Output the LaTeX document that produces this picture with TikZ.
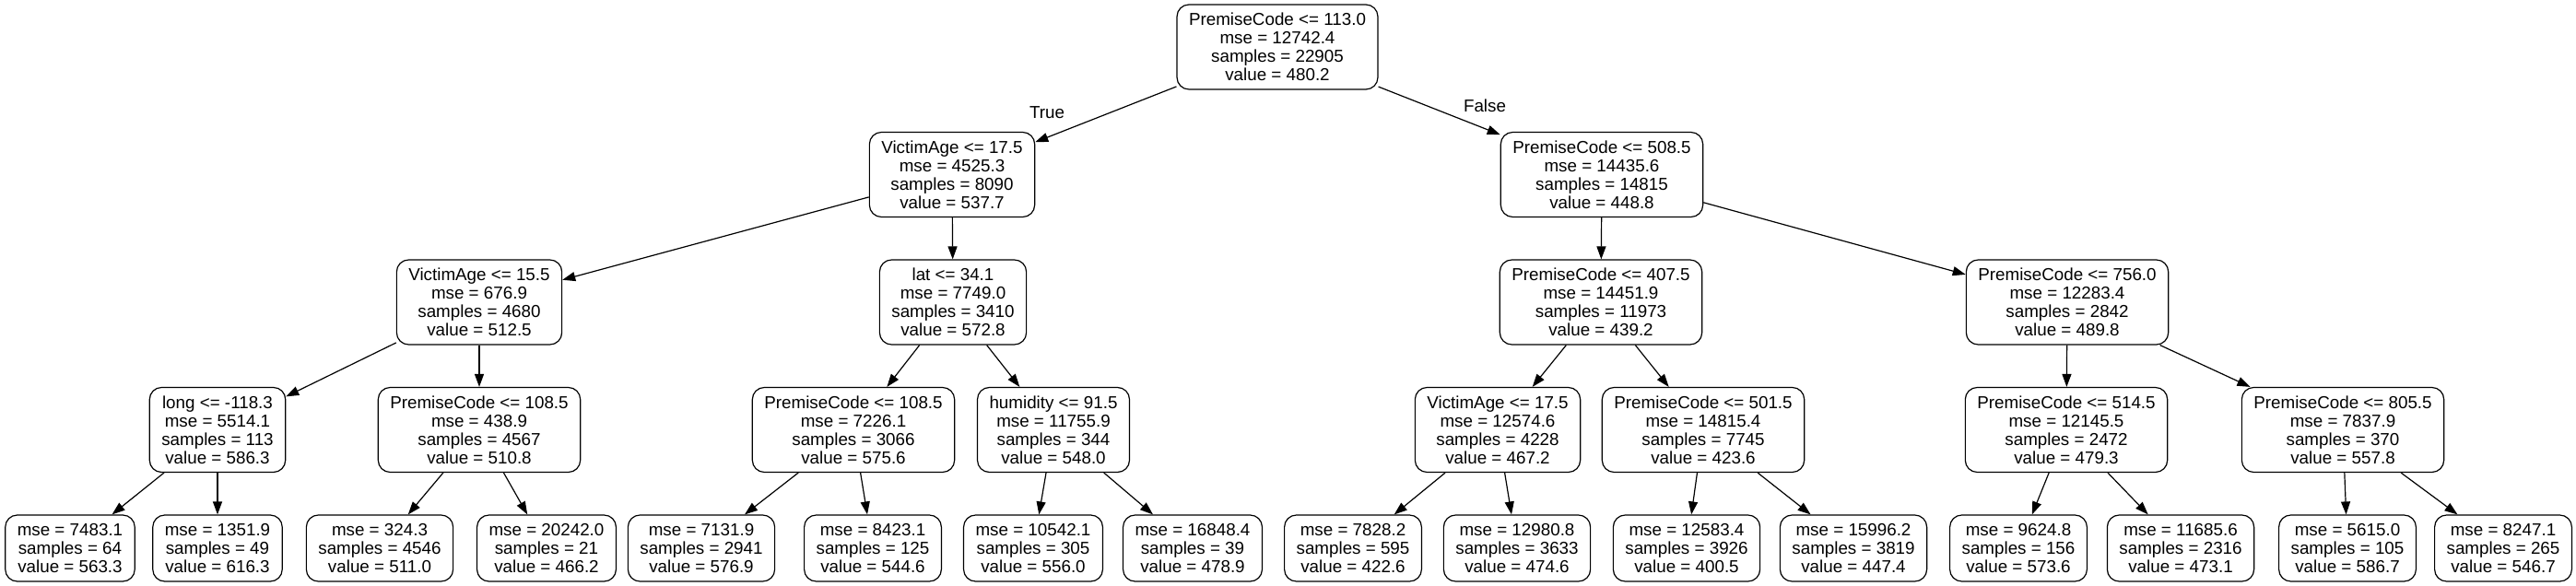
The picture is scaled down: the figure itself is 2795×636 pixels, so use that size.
\documentclass[tikz,border=0pt]{standalone}
\usepackage{fontspec}
\setmainfont{Liberation Sans}
\usetikzlibrary{arrows.meta}
\begin{document}
\begin{tikzpicture}[x=1pt,y=-1pt,
  box/.style={draw, line width=1.2pt, rounded corners=13pt, fill=white, align=center,
    font=\fontsize{18.8}{20}\selectfont, inner xsep=13pt, inner ysep=0pt},
  split/.style={box, minimum height=92pt},
  leaf/.style={box, minimum height=72pt},
  edge/.style={line width=1.2pt, -{Triangle[length=14pt,width=10pt]}},
  lbl/.style={font=\fontsize{18.8}{20}\selectfont, inner sep=0pt}
]
\useasboundingbox (0,0) rectangle (2795,636);
% level 0
\node[split] (root) at (1386,51) {PremiseCode <= 113.0\\mse = 12742.4\\samples = 22905\\value = 480.2};
% level 1
\node[split] (va1) at (1033,189.5) {VictimAge <= 17.5\\mse = 4525.3\\samples = 8090\\value = 537.7};
\node[split] (pc508) at (1738,189.5) {PremiseCode <= 508.5\\mse = 14435.6\\samples = 14815\\value = 448.8};
% level 2
\node[split] (va15) at (520,328) {VictimAge <= 15.5\\mse = 676.9\\samples = 4680\\value = 512.5};
\node[split] (lat) at (1034,328) {lat <= 34.1\\mse = 7749.0\\samples = 3410\\value = 572.8};
\node[split] (pc407) at (1737,328) {PremiseCode <= 407.5\\mse = 14451.9\\samples = 11973\\value = 439.2};
\node[split] (pc756) at (2243,328) {PremiseCode <= 756.0\\mse = 12283.4\\samples = 2842\\value = 489.8};
% level 3
\node[split] (long) at (236,466.5) {long <= -118.3\\mse = 5514.1\\samples = 113\\value = 586.3};
\node[split] (pc108a) at (520,466.5) {PremiseCode <= 108.5\\mse = 438.9\\samples = 4567\\value = 510.8};
\node[split] (pc108b) at (926,466.5) {PremiseCode <= 108.5\\mse = 7226.1\\samples = 3066\\value = 575.6};
\node[split] (hum) at (1143,466.5) {humidity <= 91.5\\mse = 11755.9\\samples = 344\\value = 548.0};
\node[split] (va17b) at (1625,466.5) {VictimAge <= 17.5\\mse = 12574.6\\samples = 4228\\value = 467.2};
\node[split] (pc501) at (1848,466.5) {PremiseCode <= 501.5\\mse = 14815.4\\samples = 7745\\value = 423.6};
\node[split] (pc514) at (2242,466.5) {PremiseCode <= 514.5\\mse = 12145.5\\samples = 2472\\value = 479.3};
\node[split] (pc805) at (2542,466.5) {PremiseCode <= 805.5\\mse = 7837.9\\samples = 370\\value = 557.8};
% leaves
\node[leaf] (l1) at (76,595) {mse = 7483.1\\samples = 64\\value = 563.3};
\node[leaf] (l2) at (236,595) {mse = 1351.9\\samples = 49\\value = 616.3};
\node[leaf] (l3) at (412,595) {mse = 324.3\\samples = 4546\\value = 511.0};
\node[leaf] (l4) at (593,595) {mse = 20242.0\\samples = 21\\value = 466.2};
\node[leaf] (l5) at (761,595) {mse = 7131.9\\samples = 2941\\value = 576.9};
\node[leaf] (l6) at (947,595) {mse = 8423.1\\samples = 125\\value = 544.6};
\node[leaf] (l7) at (1121,595) {mse = 10542.1\\samples = 305\\value = 556.0};
\node[leaf] (l8) at (1294,595) {mse = 16848.4\\samples = 39\\value = 478.9};
\node[leaf] (l9) at (1468,595) {mse = 7828.2\\samples = 595\\value = 422.6};
\node[leaf] (l10) at (1646,595) {mse = 12980.8\\samples = 3633\\value = 474.6};
\node[leaf] (l11) at (1830,595) {mse = 12583.4\\samples = 3926\\value = 400.5};
\node[leaf] (l12) at (2011,595) {mse = 15996.2\\samples = 3819\\value = 447.4};
\node[leaf] (l13) at (2190,595) {mse = 9624.8\\samples = 156\\value = 573.6};
\node[leaf] (l14) at (2366,595) {mse = 11685.6\\samples = 2316\\value = 473.1};
\node[leaf] (l15) at (2547,595) {mse = 5615.0\\samples = 105\\value = 586.7};
\node[leaf] (l16) at (2716,595) {mse = 8247.1\\samples = 265\\value = 546.7};
% edge labels
\node[lbl] (ltrue) at (1136,122) {True};
\node[lbl] (lfalse) at (1611,115) {False};
% edges
\draw[edge] (root) -- (va1);
\draw[edge] (root) -- (pc508);
\draw[edge] (va1) -- (va15);
\draw[edge] (va1) -- (lat);
\draw[edge] (va15) -- (long);
\draw[edge] (va15) -- (pc108a);
\draw[edge] (long) -- (l1);
\draw[edge] (long) -- (l2);
\draw[edge] (pc108a) -- (l3);
\draw[edge] (pc108a) -- (l4);
\draw[edge] (lat) -- (pc108b);
\draw[edge] (lat) -- (hum);
\draw[edge] (pc108b) -- (l5);
\draw[edge] (pc108b) -- (l6);
\draw[edge] (hum) -- (l7);
\draw[edge] (hum) -- (l8);
\draw[edge] (pc508) -- (pc407);
\draw[edge] (pc508) -- (pc756);
\draw[edge] (pc407) -- (va17b);
\draw[edge] (pc407) -- (pc501);
\draw[edge] (va17b) -- (l9);
\draw[edge] (va17b) -- (l10);
\draw[edge] (pc501) -- (l11);
\draw[edge] (pc501) -- (l12);
\draw[edge] (pc756) -- (pc514);
\draw[edge] (pc756) -- (pc805);
\draw[edge] (pc514) -- (l13);
\draw[edge] (pc514) -- (l14);
\draw[edge] (pc805) -- (l15);
\draw[edge] (pc805) -- (l16);
\end{tikzpicture}
\end{document}
